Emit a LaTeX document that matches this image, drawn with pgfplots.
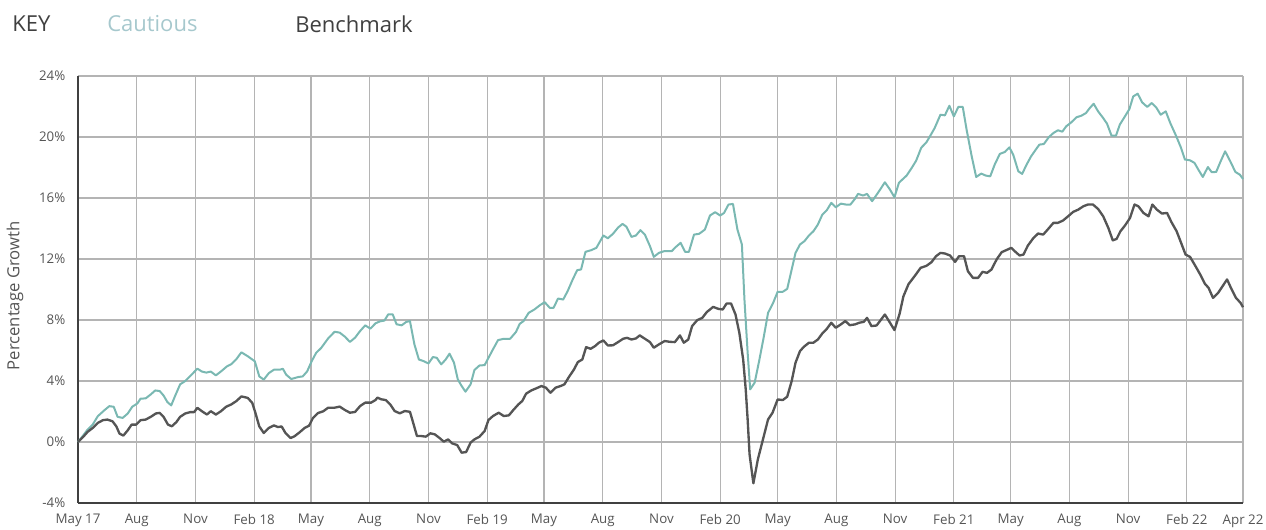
\documentclass[border=0pt]{standalone}
\usepackage{fontspec}
\setmainfont{Open Sans}
\usepackage{pgfplots}
\pgfplotsset{compat=1.18}
\usepackage{pgfplotstable}
\definecolor{cautious}{HTML}{7AB8B2}
\definecolor{bench}{HTML}{555555}
\definecolor{gridc}{HTML}{B4B4B4}
\definecolor{txt}{HTML}{555555}
\definecolor{keycaut}{HTML}{A6C8CD}

\pgfplotstableread{
d v
0 0
8 0.42
15 0.81
23 1.14
31 1.69
41 2.07
49 2.35
56 2.31
62 1.65
70 1.58
78 1.87
85 2.31
93 2.53
98 2.84
106 2.86
114 3.12
121 3.38
128 3.34
134 3.05
140 2.62
146 2.40
152 3.01
160 3.78
168 4.00
176 4.33
187 4.81
194 4.62
201 4.55
208 4.62
216 4.37
225 4.66
233 4.95
240 5.10
248 5.43
256 5.88
266 5.62
277 5.29
284 4.30
291 4.09
299 4.52
307 4.74
316 4.74
321 4.80
326 4.42
334 4.13
345 4.26
352 4.30
359 4.63
366 5.29
373 5.84
381 6.17
392 6.80
402 7.23
410 7.17
418 6.91
426 6.56
434 6.84
442 7.28
450 7.65
458 7.43
466 7.78
473 7.91
480 7.96
486 8.37
493 8.37
499 7.72
507 7.65
514 7.87
520 7.93
527 6.40
534 5.41
541 5.31
549 5.15
556 5.57
562 5.52
569 5.09
576 5.41
582 5.79
589 5.20
595 4.10
601 3.67
607 3.30
615 3.78
621 4.72
629 5.02
637 5.04
643 5.52
650 6.07
658 6.68
667 6.77
677 6.77
686 7.21
692 7.75
698 7.93
706 8.47
715 8.69
723 8.95
731 9.17
739 8.80
745 8.80
752 9.41
760 9.34
767 9.89
775 10.66
782 11.27
788 11.31
795 12.47
804 12.58
812 12.73
818 13.17
823 13.54
830 13.36
838 13.65
846 14.06
853 14.30
859 14.12
867 13.45
874 13.54
881 13.89
888 13.60
896 12.84
902 12.14
910 12.40
918 12.51
930 12.51
936 12.77
944 13.06
951 12.47
957 12.47
965 13.60
973 13.65
982 13.93
990 14.85
998 15.07
1006 14.85
1012 15.02
1019 15.57
1026 15.61
1033 13.93
1040 12.95
1044 9.34
1049 5.85
1053 3.45
1060 3.89
1067 5.31
1074 6.83
1081 8.47
1089 9.13
1096 9.85
1104 9.85
1111 10.04
1118 11.31
1124 12.40
1131 12.95
1138 13.17
1145 13.54
1152 13.82
1159 14.26
1166 14.91
1173 15.20
1180 15.68
1187 15.39
1195 15.63
1203 15.57
1210 15.57
1217 15.94
1222 16.27
1230 16.16
1236 16.27
1244 15.79
1253 16.33
1264 17.03
1272 16.55
1279 16.05
1286 17.00
1298 17.47
1306 17.97
1313 18.45
1321 19.30
1329 19.65
1334 20.00
1342 20.59
1351 21.46
1358 21.42
1365 22.05
1372 21.35
1379 21.97
1386 21.97
1392 20.48
1400 18.73
1407 17.38
1415 17.60
1422 17.47
1429 17.42
1436 18.19
1444 18.89
1452 19.02
1459 19.32
1465 18.84
1473 17.75
1479 17.58
1486 18.19
1493 18.73
1501 19.21
1506 19.50
1513 19.54
1521 20.00
1528 20.26
1535 20.44
1542 20.35
1548 20.70
1556 20.96
1564 21.29
1572 21.40
1579 21.57
1585 21.90
1591 22.18
1598 21.68
1606 21.24
1612 20.87
1619 20.09
1626 20.09
1632 20.81
1640 21.35
1647 21.83
1653 22.66
1660 22.84
1667 22.27
1675 21.97
1682 22.23
1689 21.94
1696 21.46
1704 21.68
1711 20.92
1720 20.09
1728 19.28
1734 18.52
1742 18.47
1749 18.30
1755 17.86
1762 17.38
1770 18.03
1776 17.69
1783 17.71
1790 18.41
1797 19.06
1805 18.41
1813 17.71
1820 17.53
1825 17.25
}\cautioustable

\pgfplotstableread{
d v
0 0
8 0.33
15 0.66
23 0.92
31 1.25
39 1.43
46 1.47
54 1.36
60 1.03
65 0.55
71 0.42
78 0.77
84 1.14
91 1.14
98 1.43
106 1.47
114 1.65
122 1.87
128 1.91
134 1.65
141 1.14
147 1.03
154 1.30
160 1.65
168 1.87
176 1.96
182 1.96
187 2.24
194 2.02
202 1.80
208 2.02
216 1.80
224 2.02
232 2.31
240 2.46
248 2.68
256 2.99
266 2.89
273 2.56
278 1.90
284 1.02
291 0.59
299 0.92
307 1.09
313 0.98
319 1.02
325 0.59
333 0.26
339 0.37
347 0.63
355 0.92
362 1.07
368 1.57
376 1.90
384 2.01
392 2.25
402 2.25
410 2.32
418 2.10
426 1.92
434 1.97
442 2.36
450 2.58
459 2.58
466 2.75
469 2.91
475 2.80
482 2.75
489 2.47
496 2.03
504 1.88
512 2.03
520 1.98
525 1.27
531 0.39
538 0.39
545 0.35
552 0.57
559 0.50
567 0.24
573 0.02
580 0.17
586 -0.09
594 -0.20
601 -0.70
608 -0.66
615 -0.04
621 0.17
629 0.35
637 0.72
643 1.44
650 1.70
659 1.92
667 1.70
675 1.75
682 2.10
690 2.47
696 2.69
702 3.17
710 3.38
718 3.52
726 3.67
733 3.56
740 3.23
748 3.56
756 3.67
762 3.78
769 4.26
777 4.76
783 5.24
790 5.41
796 6.22
803 6.11
810 6.29
816 6.51
823 6.66
830 6.33
838 6.34
846 6.55
854 6.77
860 6.83
867 6.72
874 6.79
880 6.99
888 6.77
896 6.55
902 6.18
910 6.40
919 6.62
927 6.57
935 6.55
943 6.99
949 6.51
956 6.72
962 7.60
970 7.99
978 8.14
985 8.52
995 8.86
1003 8.73
1010 8.69
1016 9.08
1023 9.08
1030 8.36
1036 7.16
1042 5.41
1046 3.45
1049 1.48
1052 -0.81
1058 -2.71
1065 -1.14
1073 0.17
1081 1.48
1088 1.92
1096 2.79
1104 2.75
1111 2.97
1118 4.00
1124 5.20
1131 5.96
1137 6.24
1145 6.51
1152 6.51
1159 6.72
1166 7.12
1173 7.42
1180 7.82
1187 7.49
1195 7.71
1202 7.93
1209 7.66
1217 7.71
1224 7.82
1231 7.88
1236 8.14
1243 7.60
1251 7.64
1264 8.36
1272 7.82
1279 7.34
1287 8.40
1293 9.55
1301 10.35
1311 10.90
1320 11.42
1329 11.55
1337 11.79
1344 12.18
1351 12.40
1358 12.36
1366 12.23
1374 11.81
1380 12.18
1388 12.18
1394 11.20
1402 10.76
1410 10.76
1417 11.16
1424 11.09
1431 11.31
1439 11.97
1447 12.45
1454 12.58
1462 12.73
1469 12.45
1475 12.23
1481 12.29
1488 12.88
1496 13.34
1504 13.67
1512 13.60
1519 13.93
1528 14.37
1535 14.37
1543 14.52
1551 14.80
1559 15.09
1567 15.24
1575 15.46
1582 15.57
1590 15.57
1598 15.28
1606 14.80
1614 14.04
1621 13.22
1627 13.32
1633 13.82
1640 14.19
1648 14.69
1655 15.57
1661 15.46
1669 15.02
1677 14.80
1683 15.57
1690 15.24
1698 14.98
1706 15.02
1713 14.41
1721 13.82
1729 12.95
1735 12.29
1742 12.14
1750 11.57
1758 10.98
1765 10.39
1771 10.11
1778 9.45
1786 9.78
1793 10.22
1800 10.66
1806 10.11
1814 9.45
1821 9.13
1825 8.84
}\benchtable

\begin{document}
\begin{tikzpicture}
\useasboundingbox (-58.5pt,-20.25pt) rectangle (891pt,377.25pt);
\begin{axis}[
  at={(0,0)}, anchor=south west,
  scale only axis,
  width=873.75pt, height=320.25pt,
  xmin=0, xmax=1825, ymin=-4, ymax=24,
  axis x line=bottom, axis y line=left,
  axis line style={-, draw=black!75, line width=1.1pt},
  xtick={0,92,184,276,365,457,549,641,730,822,914,1006,1096,1188,1280,1372,1461,1553,1645,1737,1825},
  xticklabels={May 17,Aug,Nov,Feb 18,May,Aug,Nov,Feb 19,May,Aug,Nov,Feb 20,May,Aug,Nov,Feb 21,May,Aug,Nov,Feb 22,Apr 22},
  ytick={-4,0,4,8,12,16,20,24},
  yticklabels={-4\%,0\%,4\%,8\%,12\%,16\%,20\%,24\%},
  major tick length=0pt,
  grid=major,
  major grid style={draw=gridc, line width=0.9pt},
  ticklabel style={font=\fontsize{10}{12}\selectfont, text=txt},
  yticklabel style={xshift=-6pt},
  xticklabel style={yshift=-5pt},
  ylabel={Percentage Growth},
  ylabel style={at={(axis description cs:-0.054,0.485)}, anchor=center, font=\fontsize{12.5}{14}\selectfont, text=txt},
  clip=false,
]
\addplot[cautious, line width=1.5pt, line join=round] table[x=d,y=v] {\cautioustable};
\addplot[bench, line width=1.75pt, line join=round] table[x=d,y=v] {\benchtable};
\end{axis}
\node[anchor=west, text=black!75, font=\fontsize{16.5}{18}\selectfont, inner sep=0pt] at (-49.5pt,359.25pt) {KEY};
\node[anchor=west, text=keycaut, font=\fontsize{16.5}{18}\selectfont, inner sep=0pt] at (21.75pt,359.25pt) {Cautious};
\node[anchor=west, text=black!75, font=\fontsize{16.5}{18}\selectfont, inner sep=0pt] at (162.75pt,359.25pt) {Benchmark};
\end{tikzpicture}
\end{document}
